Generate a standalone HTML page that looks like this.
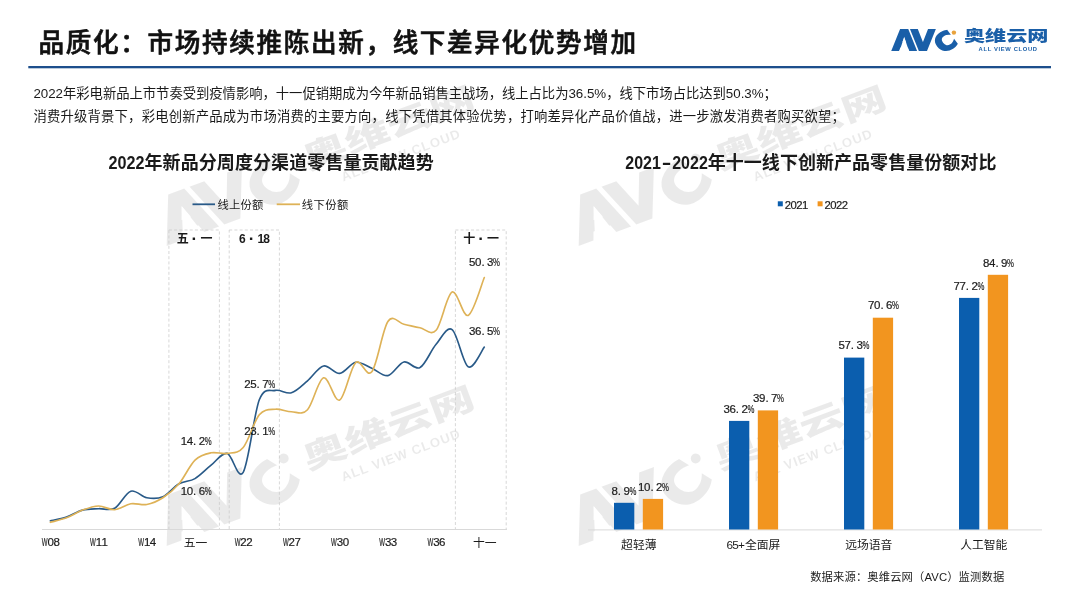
<!DOCTYPE html>
<html lang="zh-CN"><head><meta charset="utf-8"><title>品质化：市场持续推陈出新，线下差异化优势增加</title>
<style>html,body{margin:0;padding:0;background:#fff;}body{width:1080px;height:608px;overflow:hidden;}svg{display:block;}text{font-family:"Liberation Sans", "Noto Sans CJK SC", sans-serif;fill:#1a1a1a;}.b{font-weight:700;}.lab{font-size:11px;}.dl{font-size:11px;}</style></head><body>
<svg width="1080" height="608" viewBox="0 0 1080 608">
<rect width="1080" height="608" fill="#ffffff"/>
<defs>
<mask id="mlogo" maskUnits="userSpaceOnUse" x="-5" y="-10" width="90" height="50"><rect x="-5" y="-10" width="90" height="50" fill="#fff"/><polygon points="6.45,23.4 15.76,23.4 11.11,7.74" fill="#000"/></mask>
<g id="logo"><text transform="scale(1.1,1)" x="0.5 17.5 45.9" y="21.2" mask="url(#mlogo)" style="font-family:'DejaVu Sans','Liberation Sans',sans-serif;font-weight:700;font-size:27.4px;fill:inherit;stroke:inherit;stroke-width:1.8px;stroke-linejoin:miter">AV<tspan y="25.1" rotate="-35" style="font-size:24.5px">C</tspan></text><text x="72" y="12.2" style="font-family:'Liberation Sans','Noto Sans CJK SC',sans-serif;font-weight:900;font-size:15px;fill:inherit;stroke:none" textLength="84.5" lengthAdjust="spacingAndGlyphs">奥维云网</text><text x="86.6" y="22.4" style="font-family:'Liberation Sans',sans-serif;font-weight:700;font-size:5.8px;fill:inherit;stroke:none" textLength="58.4" lengthAdjust="spacing">ALL VIEW CLOUD</text></g>
<mask id="mwlogo" maskUnits="userSpaceOnUse" x="-5" y="-10" width="90" height="50"><rect x="-5" y="-10" width="90" height="50" fill="#fff"/><polygon points="6.39,23.4 15.81,23.4 11.11,7.59" fill="#000"/></mask>
<g id="wlogo"><text transform="scale(1.1,1)" x="0.5 17.5 45.9" y="21.2" mask="url(#mwlogo)" style="font-family:'DejaVu Sans','Liberation Sans',sans-serif;font-weight:700;font-size:27.4px;fill:inherit;stroke:inherit;stroke-width:1.1px;stroke-linejoin:miter">AV<tspan y="25.1" rotate="-35" style="font-size:24.5px">C</tspan></text><text x="70" y="12.2" style="font-family:'Liberation Sans','Noto Sans CJK SC',sans-serif;font-weight:900;font-size:14px;fill:inherit;stroke:none" textLength="80" lengthAdjust="spacingAndGlyphs">奥维云网</text><text x="83" y="22.4" style="font-family:'Liberation Sans',sans-serif;font-weight:700;font-size:5.8px;fill:inherit;stroke:none" textLength="55.6" lengthAdjust="spacing">ALL VIEW CLOUD</text></g>
</defs>
<g transform="translate(167.5,247.0) rotate(-20.5) scale(2.26) translate(0,-22.3)" fill="#000" stroke="#000" opacity="0.078"><use href="#wlogo"/><circle cx="61.9" cy="3.6" r="2.2" stroke="none"/></g>
<g transform="translate(579.5,247.0) rotate(-20.5) scale(2.26) translate(0,-22.3)" fill="#000" stroke="#000" opacity="0.078"><use href="#wlogo"/><circle cx="61.9" cy="3.6" r="2.2" stroke="none"/></g>
<g transform="translate(167.5,547.0) rotate(-20.5) scale(2.26) translate(0,-22.3)" fill="#000" stroke="#000" opacity="0.078"><use href="#wlogo"/><circle cx="61.9" cy="3.6" r="2.2" stroke="none"/></g>
<g transform="translate(579.5,547.0) rotate(-20.5) scale(2.26) translate(0,-22.3)" fill="#000" stroke="#000" opacity="0.078"><use href="#wlogo"/><circle cx="61.9" cy="3.6" r="2.2" stroke="none"/></g>
<text x="38.6" y="52" style="font-size:25.6px;font-weight:500;fill:#111;stroke:#111;stroke-width:0.65px" textLength="597.5" lengthAdjust="spacing">品质化：市场持续推陈出新，线下差异化优势增加</text>
<rect x="28.3" y="66" width="1022.7" height="2.3" fill="#1d4f8c"/>
<g transform="translate(892,29)" fill="#1a5fa8" stroke="#1a5fa8"><use href="#logo"/><circle cx="61.9" cy="3.6" r="2.2" fill="#e8a23c" stroke="none"/></g>
<text x="33.4" y="98" style="font-size:13.33px" textLength="743.5" lengthAdjust="spacing">2022年彩电新品上市节奏受到疫情影响，十一促销期成为今年新品销售主战场，线上占比为36.5%，线下市场占比达到50.3%；</text>
<text x="33.4" y="121" style="font-size:13.33px" textLength="811.5" lengthAdjust="spacing">消费升级背景下，彩电创新产品成为市场消费的主要方向，线下凭借其体验优势，打响差异化产品价值战，进一步激发消费者购买欲望；</text>
<text class="b" y="168.9" style="font-size:18px"><tspan x="108.5" textLength="36" lengthAdjust="spacingAndGlyphs">2022</tspan><tspan x="144.5" textLength="289.2" lengthAdjust="spacing">年新品分周度分渠道零售量贡献趋势</tspan></text>
<text class="b" y="168.9" style="font-size:18px"><tspan x="625.3" textLength="35.6" lengthAdjust="spacingAndGlyphs">2021</tspan><tspan x="661.8" textLength="9.6" lengthAdjust="spacingAndGlyphs">-</tspan><tspan x="672.2" textLength="35.6" lengthAdjust="spacingAndGlyphs">2022</tspan><tspan x="707.7" textLength="288.7" lengthAdjust="spacing">年十一线下创新产品零售量份额对比</tspan></text>
<line x1="192.5" y1="204.3" x2="215" y2="204.3" stroke="#295a88" stroke-width="1.8"/>
<text x="217.5" y="209" style="font-size:11.3px" textLength="45.8" lengthAdjust="spacing">线上份额</text>
<line x1="276.7" y1="204.3" x2="300" y2="204.3" stroke="#deb257" stroke-width="1.8"/>
<text x="301.7" y="209" style="font-size:11.3px" textLength="46.6" lengthAdjust="spacing">线下份额</text>
<rect x="168.9" y="230" width="50.5" height="299.5" fill="none" stroke="#c9c9c9" stroke-width="0.75" stroke-dasharray="3 2.2"/>
<text class="b" y="243" x="182.8 194.4 206.4" text-anchor="middle" style="font-size:12px">五<tspan style="font-size:17px" dy="1.2">·</tspan><tspan dy="-1.2">一</tspan></text>
<rect x="229.2" y="230" width="50.2" height="299.5" fill="none" stroke="#c9c9c9" stroke-width="0.75" stroke-dasharray="3 2.2"/>
<text class="b" y="243" x="242.4 251.7 260.9 266.6" text-anchor="middle" style="font-size:12px">6<tspan style="font-size:17px" dy="1.2">·</tspan><tspan dy="-1.2">1</tspan>8</text>
<rect x="455.4" y="230" width="50.8" height="299.5" fill="none" stroke="#c9c9c9" stroke-width="0.75" stroke-dasharray="3 2.2"/>
<text class="b" y="243" x="469.3 481.0 493.0" text-anchor="middle" style="font-size:12px">十<tspan style="font-size:17px" dy="1.2">·</tspan><tspan dy="-1.2">一</tspan></text>
<line x1="42" y1="529.5" x2="507" y2="529.5" stroke="#d9d9d9" stroke-width="1"/>
<text y="546.4" x="41.85 47.50 53.40" style="font-size:11.5px;stroke:#222;stroke-width:0.2px;"><tspan textLength="5.80" lengthAdjust="spacingAndGlyphs">W</tspan>08</text>
<text y="546.4" x="90.06 95.71 101.61" style="font-size:11.5px;stroke:#222;stroke-width:0.2px;"><tspan textLength="5.80" lengthAdjust="spacingAndGlyphs">W</tspan>11</text>
<text y="546.4" x="138.27 143.92 149.82" style="font-size:11.5px;stroke:#222;stroke-width:0.2px;"><tspan textLength="5.80" lengthAdjust="spacingAndGlyphs">W</tspan>14</text>
<text x="195.5" y="547.2" text-anchor="middle" style="font-size:11.8px">五一</text>
<text y="546.4" x="234.69 240.34 246.24" style="font-size:11.5px;stroke:#222;stroke-width:0.2px;"><tspan textLength="5.80" lengthAdjust="spacingAndGlyphs">W</tspan>22</text>
<text y="546.4" x="282.90 288.55 294.45" style="font-size:11.5px;stroke:#222;stroke-width:0.2px;"><tspan textLength="5.80" lengthAdjust="spacingAndGlyphs">W</tspan>27</text>
<text y="546.4" x="331.11 336.76 342.66" style="font-size:11.5px;stroke:#222;stroke-width:0.2px;"><tspan textLength="5.80" lengthAdjust="spacingAndGlyphs">W</tspan>30</text>
<text y="546.4" x="379.32 384.97 390.87" style="font-size:11.5px;stroke:#222;stroke-width:0.2px;"><tspan textLength="5.80" lengthAdjust="spacingAndGlyphs">W</tspan>33</text>
<text y="546.4" x="427.53 433.18 439.08" style="font-size:11.5px;stroke:#222;stroke-width:0.2px;"><tspan textLength="5.80" lengthAdjust="spacingAndGlyphs">W</tspan>36</text>
<text x="484.8" y="547.2" text-anchor="middle" style="font-size:11.8px">十一</text>
<path d="M50.4 520.8 C53.1 520.2 61.1 518.9 66.5 517.1 C71.8 515.3 77.2 511.5 82.5 510.1 C87.9 508.7 93.3 509.0 98.6 508.7 C104.0 508.4 109.3 511.1 114.7 508.2 C120.0 505.3 125.4 492.9 130.8 491.2 C136.1 489.5 141.5 496.9 146.8 497.8 C152.2 498.7 157.5 499.1 162.9 496.8 C168.2 494.5 173.6 486.8 179.0 483.8 C184.3 480.8 189.7 481.7 195.0 478.6 C200.4 475.5 205.7 469.4 211.1 465.2 C216.5 461.0 221.8 452.2 227.2 453.4 C232.5 454.6 237.9 481.2 243.2 472.3 C248.6 463.4 254.0 413.4 259.3 399.8 C264.7 386.2 270.0 391.6 275.4 390.4 C280.7 389.2 286.1 394.4 291.4 392.8 C296.8 391.2 302.2 385.3 307.5 380.8 C312.9 376.3 318.2 367.2 323.6 366.0 C328.9 364.8 334.3 374.0 339.7 373.4 C345.0 372.8 350.4 363.2 355.7 362.3 C361.1 361.4 366.4 366.0 371.8 368.2 C377.2 370.4 382.5 376.6 387.9 375.6 C393.2 374.6 398.6 363.3 403.9 362.0 C409.3 360.7 414.7 370.6 420.0 367.6 C425.4 364.7 430.7 350.6 436.1 344.3 C441.4 338.0 446.8 325.9 452.1 329.6 C457.5 333.4 462.9 363.9 468.2 366.8 C473.6 369.7 481.6 350.4 484.3 347.1" fill="none" stroke="#295a88" stroke-width="1.65" stroke-linecap="round" stroke-linejoin="round"/>
<path d="M50.4 522.3 C53.1 521.5 61.1 519.8 66.5 517.8 C71.8 515.8 77.2 512.1 82.5 510.1 C87.9 508.1 93.3 506.1 98.6 506.0 C104.0 505.9 109.3 510.1 114.7 509.7 C120.0 509.3 125.4 504.7 130.8 503.8 C136.1 502.9 141.5 505.5 146.8 504.5 C152.2 503.5 157.5 501.2 162.9 497.8 C168.2 494.4 173.6 490.1 179.0 483.8 C184.3 477.5 189.7 465.3 195.0 460.1 C200.4 454.9 205.7 453.9 211.1 452.8 C216.5 451.7 221.8 454.3 227.2 453.4 C232.5 452.5 237.9 453.9 243.2 447.5 C248.6 441.1 254.0 421.2 259.3 414.8 C264.7 408.4 270.0 409.7 275.4 409.2 C280.7 408.7 286.1 411.7 291.4 411.8 C296.8 411.9 302.2 415.5 307.5 409.8 C312.9 404.1 318.2 379.4 323.6 377.8 C328.9 376.2 334.3 402.6 339.7 400.1 C345.0 397.6 350.4 367.3 355.7 362.6 C361.1 357.9 366.4 378.7 371.8 371.8 C377.2 364.9 382.5 329.4 387.9 321.5 C393.2 313.6 398.6 323.2 403.9 324.3 C409.3 325.4 414.7 326.8 420.0 327.8 C425.4 328.8 430.7 336.2 436.1 330.3 C441.4 324.4 446.8 294.6 452.1 292.1 C457.5 289.6 462.9 317.8 468.2 315.4 C473.6 313.0 481.6 283.8 484.3 277.5" fill="none" stroke="#deb257" stroke-width="1.65" stroke-linecap="round" stroke-linejoin="round"/>
<text y="388.3" x="244.30 250.30 256.60 262.30 268.30" style="font-size:11.5px;stroke:#222;stroke-width:0.2px;">25.7<tspan textLength="6.90" lengthAdjust="spacingAndGlyphs" style="font-size:11.8px">%</tspan></text>
<text y="434.8" x="244.30 250.30 256.60 262.30 268.30" style="font-size:11.5px;stroke:#222;stroke-width:0.2px;">23.1<tspan textLength="6.90" lengthAdjust="spacingAndGlyphs" style="font-size:11.8px">%</tspan></text>
<text y="445.3" x="180.80 186.80 193.10 198.80 204.80" style="font-size:11.5px;stroke:#222;stroke-width:0.2px;">14.2<tspan textLength="6.90" lengthAdjust="spacingAndGlyphs" style="font-size:11.8px">%</tspan></text>
<text y="495.3" x="180.80 186.80 193.10 198.80 204.80" style="font-size:11.5px;stroke:#222;stroke-width:0.2px;">10.6<tspan textLength="6.90" lengthAdjust="spacingAndGlyphs" style="font-size:11.8px">%</tspan></text>
<text y="265.8" x="469.10 475.10 481.40 487.10 493.10" style="font-size:11.5px;stroke:#222;stroke-width:0.2px;">50.3<tspan textLength="6.90" lengthAdjust="spacingAndGlyphs" style="font-size:11.8px">%</tspan></text>
<text y="335.3" x="469.10 475.10 481.40 487.10 493.10" style="font-size:11.5px;stroke:#222;stroke-width:0.2px;">36.5<tspan textLength="6.90" lengthAdjust="spacingAndGlyphs" style="font-size:11.8px">%</tspan></text>
<rect x="777.8" y="201.3" width="5" height="5" fill="#0b5eae"/>
<text y="208.8" x="784.83 790.58 796.33 802.08" style="font-size:11.3px;stroke:#222;stroke-width:0.2px;">2021</text>
<rect x="817.6" y="201.3" width="5" height="5" fill="#f2951f"/>
<text y="208.8" x="824.53 830.28 836.03 841.78" style="font-size:11.3px;stroke:#222;stroke-width:0.2px;">2022</text>
<line x1="588" y1="529.9" x2="1042" y2="529.9" stroke="#d9d9d9" stroke-width="1"/>
<rect x="614.0" y="502.8" width="20.3" height="26.7" fill="#0b5eae"/>
<rect x="642.8" y="498.9" width="20.3" height="30.6" fill="#f2951f"/>
<text y="494.5" x="611.40 617.70 623.40 629.40" style="font-size:11.5px;stroke:#222;stroke-width:0.2px;">8.9<tspan textLength="6.90" lengthAdjust="spacingAndGlyphs" style="font-size:11.8px">%</tspan></text>
<text y="490.6" x="638.10 644.10 650.40 656.10 662.10" style="font-size:11.5px;stroke:#222;stroke-width:0.2px;">10.2<tspan textLength="6.90" lengthAdjust="spacingAndGlyphs" style="font-size:11.8px">%</tspan></text>
<text x="638.8" y="549.3" text-anchor="middle" style="font-size:11.8px">超轻薄</text>
<rect x="729.0" y="420.9" width="20.3" height="108.6" fill="#0b5eae"/>
<rect x="757.8" y="410.4" width="20.3" height="119.1" fill="#f2951f"/>
<text y="412.6" x="723.40 729.40 735.70 741.40 747.40" style="font-size:11.5px;stroke:#222;stroke-width:0.2px;">36.2<tspan textLength="6.90" lengthAdjust="spacingAndGlyphs" style="font-size:11.8px">%</tspan></text>
<text y="402.1" x="753.10 759.10 765.40 771.10 777.10" style="font-size:11.5px;stroke:#222;stroke-width:0.2px;">39.7<tspan textLength="6.90" lengthAdjust="spacingAndGlyphs" style="font-size:11.8px">%</tspan></text>
<text y="549.3" x="726.5 732.3 738.1 745.0 756.8 768.6" style="font-size:11.8px">65+全面屏</text>
<rect x="844.0" y="357.6" width="20.3" height="171.9" fill="#0b5eae"/>
<rect x="872.8" y="317.7" width="20.3" height="211.8" fill="#f2951f"/>
<text y="349.3" x="838.40 844.40 850.70 856.40 862.40" style="font-size:11.5px;stroke:#222;stroke-width:0.2px;">57.3<tspan textLength="6.90" lengthAdjust="spacingAndGlyphs" style="font-size:11.8px">%</tspan></text>
<text y="309.4" x="868.10 874.10 880.40 886.10 892.10" style="font-size:11.5px;stroke:#222;stroke-width:0.2px;">70.6<tspan textLength="6.90" lengthAdjust="spacingAndGlyphs" style="font-size:11.8px">%</tspan></text>
<text x="868.8" y="549.3" text-anchor="middle" style="font-size:11.8px">远场语音</text>
<rect x="959.0" y="297.9" width="20.3" height="231.6" fill="#0b5eae"/>
<rect x="987.8" y="274.8" width="20.3" height="254.7" fill="#f2951f"/>
<text y="289.6" x="953.40 959.40 965.70 971.40 977.40" style="font-size:11.5px;stroke:#222;stroke-width:0.2px;">77.2<tspan textLength="6.90" lengthAdjust="spacingAndGlyphs" style="font-size:11.8px">%</tspan></text>
<text y="266.5" x="983.10 989.10 995.40 1001.10 1007.10" style="font-size:11.5px;stroke:#222;stroke-width:0.2px;">84.9<tspan textLength="6.90" lengthAdjust="spacingAndGlyphs" style="font-size:11.8px">%</tspan></text>
<text x="983.8" y="549.3" text-anchor="middle" style="font-size:11.8px">人工智能</text>
<text x="810.2" y="581" style="font-size:11.3px" textLength="194" lengthAdjust="spacing">数据来源：奥维云网（AVC）监测数据</text>
</svg></body></html>
